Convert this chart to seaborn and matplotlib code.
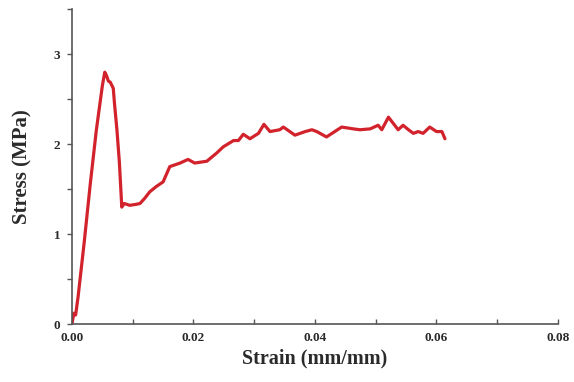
import matplotlib
matplotlib.use("Agg")
import matplotlib.pyplot as plt
import seaborn as sns
import pandas as pd
from matplotlib.ticker import MultipleLocator

strain = [0.0000, 0.0003, 0.0006, 0.0010, 0.0020, 0.0030, 0.0040, 0.0050, 0.0054, 0.0057,
          0.0060, 0.0063, 0.0068, 0.0070, 0.0074, 0.0078, 0.0082, 0.0086, 0.0095, 0.0105,
          0.0112, 0.0120, 0.0128, 0.0139, 0.0150, 0.0161, 0.0178, 0.0191, 0.0202, 0.0222,
          0.0238, 0.0249, 0.0266, 0.0274, 0.0282, 0.0293, 0.0307, 0.0316, 0.0326, 0.0342,
          0.0348, 0.0367, 0.0384, 0.0395, 0.0403, 0.0419, 0.0444, 0.0463, 0.0474, 0.0491,
          0.0504, 0.0510, 0.0521, 0.0529, 0.0537, 0.0545, 0.0554, 0.0562, 0.0570, 0.0578,
          0.0589, 0.0600, 0.0609, 0.0614]
stress = [0.00, 0.12, 0.10, 0.30, 0.90, 1.55, 2.15, 2.65, 2.80, 2.76,
          2.70, 2.69, 2.62, 2.45, 2.16, 1.80, 1.30, 1.34, 1.32, 1.33,
          1.34, 1.40, 1.47, 1.53, 1.58, 1.75, 1.79, 1.83, 1.79, 1.81,
          1.90, 1.97, 2.04, 2.04, 2.11, 2.06, 2.12, 2.22, 2.14, 2.16,
          2.19, 2.10, 2.14, 2.16, 2.14, 2.08, 2.19, 2.17, 2.16, 2.17,
          2.21, 2.16, 2.30, 2.23, 2.16, 2.21, 2.16, 2.12, 2.14, 2.12,
          2.19, 2.14, 2.14, 2.06]

xticks = [0.00, 0.02, 0.04, 0.06, 0.08]
xticklabels = ["0.00", "0.02", "0.04", "0.06", "0.08"]
yticks = [0, 1, 2, 3]
yticklabels = ["0", "1", "2", "3"]

df = pd.DataFrame({"Strain": strain, "Stress": stress})

sns.set_theme(style="ticks")
plt.rcParams['font.family'] = ['Liberation Serif', 'DejaVu Serif']

fig = plt.figure(figsize=(5.74, 3.82), dpi=100)
ax = fig.add_axes([0.1254, 0.1518, 0.8466, 0.824])
sns.lineplot(data=df, x="Strain", y="Stress", ax=ax, color="#d2222c", linewidth=2.3,
             sort=False, estimator=None)

ax.set_xlim(0, 0.08)
ax.set_ylim(0, 3.5)
ax.set_xticks(xticks)
ax.set_xticklabels(xticklabels, fontweight="bold", fontsize=9.5)
ax.set_yticks(yticks)
ax.set_yticklabels(yticklabels, fontweight="bold", fontsize=9.5)
ax.xaxis.set_minor_locator(MultipleLocator(0.01))
ax.yaxis.set_minor_locator(MultipleLocator(0.5))
ax.tick_params(axis="x", which="both", direction="in", length=3.5, width=1, colors="#555555",
               labelcolor="#2a2a2a", pad=6)
ax.tick_params(axis="y", which="both", direction="out", length=3.5, width=1, colors="#555555",
               labelcolor="#2a2a2a", pad=5)
ax.set_xlabel("Strain (mm/mm)", fontweight="bold", fontsize=14.5, color="#2a2a2a", labelpad=3)
ax.set_ylabel("Stress (MPa)", fontweight="bold", fontsize=15, color="#2a2a2a", labelpad=15)
for s in ["top", "right"]:
    ax.spines[s].set_visible(False)
for s in ["left", "bottom"]:
    ax.spines[s].set_color("#555555")
    ax.spines[s].set_linewidth(1.2)

fig.savefig("out.png", dpi=100)
